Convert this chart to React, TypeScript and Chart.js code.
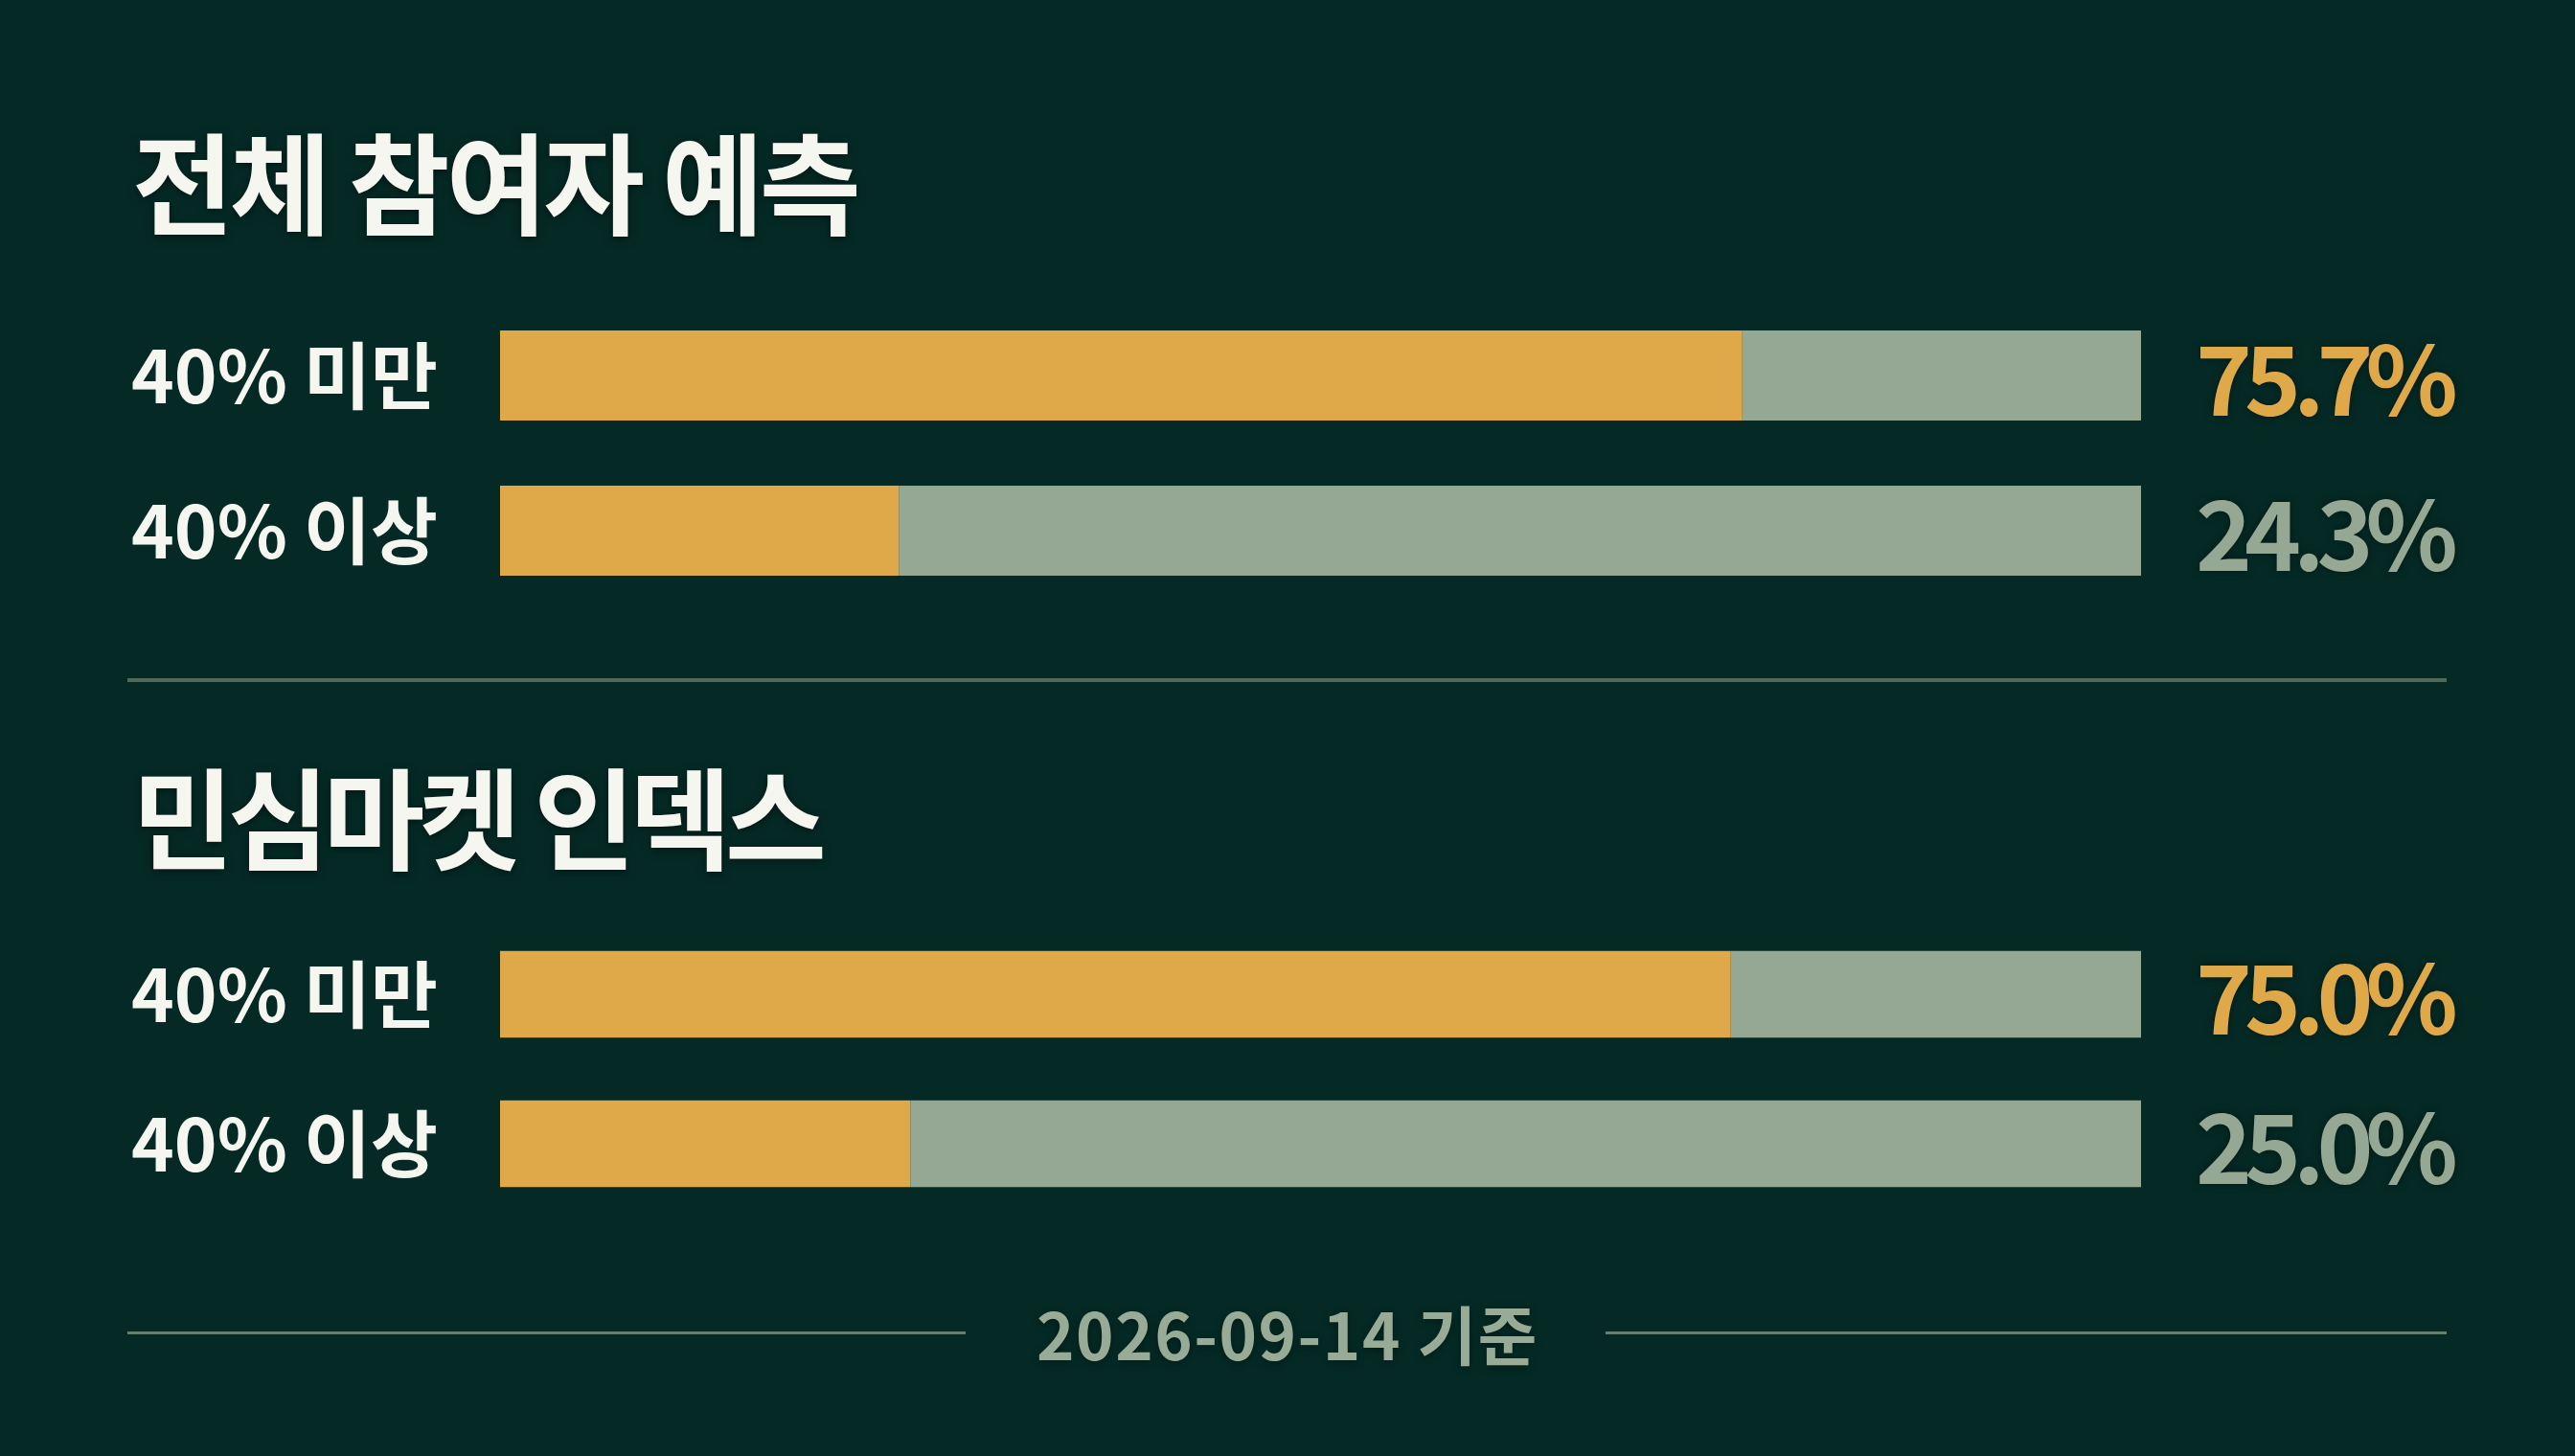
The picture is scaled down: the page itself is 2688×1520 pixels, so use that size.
import { useEffect, useRef } from "react";
import { Chart, ChartConfiguration, registerables } from "chart.js";
Chart.register(...registerables);

// row categories and the two groups of shares (percent)
const rowLabels = ["40% 미만", "40% 이상"];
const overallShares = [75.7, 24.3];
const indexShares = [75.0, 25.0];
const sectionTitles = ["전체 참여자 예측", "민심마켓 인덱스"];
const footerText = "2026-09-14 기준";

const BG = "#052a25";
const ORANGE = "#dfa94a";
const SAGE = "#95a893";
const FONT = "'Noto Sans CJK KR', 'Noto Sans', sans-serif";

// draws the percentage text right of each bar
const valueLabels = {
  id: "valueLabels",
  afterDatasetsDraw(chart: any) {
    const { ctx, chartArea } = chart;
    const meta = chart.getDatasetMeta(0);
    const values: number[] = chart.data.datasets[0].data;
    const top = Math.max(...values);
    ctx.save();
    ctx.font = `600 100px ${FONT}`;
    (ctx as any).letterSpacing = "-8px";
    ctx.textAlign = "left";
    ctx.textBaseline = "middle";
    ctx.shadowColor = "rgba(0,0,0,0.45)";
    ctx.shadowBlur = 10;
    meta.data.forEach((bar: any, i: number) => {
      ctx.fillStyle = values[i] === top ? ORANGE : SAGE;
      ctx.fillText(values[i].toFixed(1) + "%", chartArea.right + 57, bar.y + 4);
    });
    ctx.restore();
  },
};

type ShareBarsProps = {
  values: number[];
  top: number;
  height: number;
  padTop: number;
  padBottom: number;
};

function ShareBars({ values, top, height, padTop, padBottom }: ShareBarsProps) {
  const canvasRef = useRef<HTMLCanvasElement | null>(null);
  const chartRef = useRef<Chart<"bar"> | null>(null);

  useEffect(() => {
    const config: ChartConfiguration<"bar"> = {
      type: "bar",
      data: {
        labels: rowLabels,
        datasets: [
          {
            label: "share",
            data: values,
            backgroundColor: ORANGE,
            categoryPercentage: 1,
            barPercentage: 0.58,
          },
          {
            label: "rest",
            data: values.map((v) => 100 - v),
            backgroundColor: SAGE,
            categoryPercentage: 1,
            barPercentage: 0.58,
          },
        ],
      },
      options: {
        indexAxis: "y",
        responsive: true,
        maintainAspectRatio: false,
        animation: false,
        layout: {
          padding: { left: 137, right: 453, top: padTop, bottom: padBottom },
        },
        plugins: {
          legend: { display: false },
          tooltip: { enabled: false },
        },
        scales: {
          x: { display: false, stacked: true, min: 0, max: 100 },
          y: {
            stacked: true,
            grid: { display: false },
            border: { display: false },
            // fixed label column, and no extra room for the tall tick labels
            afterFit: (scale: any) => {
              scale.width = 385;
              scale.paddingTop = 0;
              scale.paddingBottom = 0;
            },
            ticks: {
              crossAlign: "far",
              color: "#f6f6f1",
              font: { family: FONT, size: 76, weight: 600 },
            },
          },
        },
      },
      plugins: [valueLabels],
    };

    if (canvasRef.current) {
      chartRef.current = new Chart(canvasRef.current, config);
    }
    return () => {
      if (chartRef.current) chartRef.current.destroy();
    };
  }, [values, padTop, padBottom]);

  return (
    <div style={{ position: "absolute", left: 0, top, width: 2688, height }}>
      <canvas ref={canvasRef} />
    </div>
  );
}

const titleStyle = (top: number, spacing: number): React.CSSProperties => ({
  position: "absolute",
  left: 138,
  top,
  fontFamily: FONT,
  fontSize: 115,
  fontWeight: 700,
  lineHeight: 1,
  letterSpacing: spacing,
  color: "#f6f6f1",
  textShadow: "0 2px 10px rgba(0,0,0,0.5)",
  whiteSpace: "nowrap",
});

export default function App() {
  return (
    <div
      style={{
        position: "fixed",
        left: 0,
        top: 0,
        width: 2688,
        height: 1520,
        background: BG,
        overflow: "hidden",
      }}
    >
      <div style={titleStyle(129, -4)}>{sectionTitles[0]}</div>
      <ShareBars values={overallShares} top={300} height={350} padTop={11} padBottom={15} />

      <div
        style={{
          position: "absolute",
          left: 133,
          top: 708,
          width: 2421,
          height: 4,
          background: "#4d6a5b",
        }}
      />

      <div style={titleStyle(792, -6)}>{sectionTitles[1]}</div>
      <ShareBars values={indexShares} top={950} height={340} padTop={10} padBottom={18} />

      <div style={{ position: "absolute", left: 133, top: 1390, width: 875, height: 3, background: "#64806f" }} />
      <div style={{ position: "absolute", left: 1676, top: 1390, width: 878, height: 3, background: "#64806f" }} />
      <div
        style={{
          position: "absolute",
          left: 1044,
          width: 600,
          top: 1357,
          textAlign: "center",
          fontFamily: FONT,
          fontSize: 67,
          fontWeight: 600,
          letterSpacing: 1.5,
          lineHeight: 1,
          color: "#97ab96",
          textShadow: "0 2px 8px rgba(0,0,0,0.4)",
        }}
      >
        {footerText}
      </div>
    </div>
  );
}
